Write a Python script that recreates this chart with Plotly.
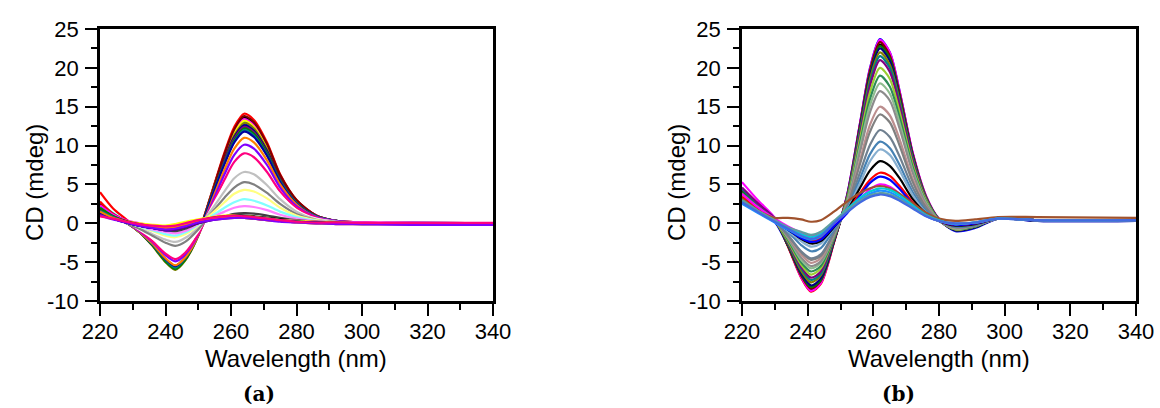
import plotly.graph_objects as go

# ---------------- data ----------------
# wavelength grids (nm)
wl_a = [220, 224, 228, 232, 236, 240, 243, 246, 250, 254, 258, 261, 264, 267, 271, 275, 280, 286, 292, 300, 315, 340]
wl_b = [220, 225, 230, 234, 238, 241, 244, 248, 252, 256, 259, 262, 265, 268, 272, 276, 280, 285, 291, 298, 310, 340]

# panel (a): strongest spectra
a_high_colors = ["#000000", "#FF0000", "#00FF00", "#0000FF", "#00FFFF", "#FF00FF", "#FFFF00",
                 "#808000", "#000080", "#800080", "#800000", "#008000", "#008080", "#0000A0"]
a_high = [
    [2.4, 1.2, 0.2, -1.1, -2.7, -4.7, -5.7, -4.5, -1.4, 3.7, 8.7, 12.0, 13.6, 12.8, 10.0, 6.1, 2.9, 1.0, 0.3, 0.05, 0.0, 0.0],
    [4.0, 1.9, 0.5, -1.0, -2.7, -4.6, -5.6, -4.5, -1.3, 3.8, 9.1, 12.4, 14.1, 13.3, 10.4, 6.3, 3.0, 1.0, 0.3, 0.1, 0.0, 0.0],
    [2.2, 1.1, 0.2, -1.1, -2.8, -4.8, -5.8, -4.6, -1.5, 3.6, 8.6, 11.7, 13.3, 12.5, 9.8, 6.0, 2.8, 0.9, 0.3, 0.0, 0.0, 0.0],
    [2.0, 1.0, 0.1, -1.0, -2.6, -4.6, -5.5, -4.4, -1.4, 3.5, 8.2, 11.3, 12.8, 12.1, 9.4, 5.8, 2.7, 0.9, 0.3, 0.0, 0.0, 0.0],
    [2.6, 1.3, 0.2, -1.0, -2.7, -4.6, -5.6, -4.5, -1.4, 3.5, 8.4, 11.4, 13.0, 12.3, 9.6, 5.9, 2.8, 0.9, 0.3, 0.0, 0.0, 0.0],
    [2.0, 1.0, 0.1, -1.1, -2.8, -4.9, -5.9, -4.7, -1.5, 3.6, 8.6, 11.8, 13.4, 12.6, 9.9, 6.0, 2.9, 1.0, 0.3, 0.0, 0.0, 0.0],
    [1.8, 0.9, 0.1, -1.1, -2.8, -4.9, -5.9, -4.7, -1.5, 3.6, 8.5, 11.6, 13.2, 12.4, 9.7, 5.9, 2.8, 0.9, 0.3, 0.0, 0.0, 0.0],
    [2.3, 1.1, 0.2, -1.1, -2.9, -5.0, -6.0, -4.8, -1.6, 3.5, 8.3, 11.3, 12.9, 12.2, 9.5, 5.8, 2.8, 0.9, 0.3, 0.0, 0.0, 0.0],
    [1.9, 1.0, 0.1, -1.1, -2.8, -4.8, -5.8, -4.6, -1.5, 3.4, 8.1, 11.1, 12.6, 11.9, 9.3, 5.7, 2.7, 0.9, 0.3, 0.0, 0.0, 0.0],
    [2.1, 1.0, 0.1, -1.0, -2.7, -4.6, -5.6, -4.5, -1.4, 3.4, 8.0, 10.9, 12.4, 11.7, 9.1, 5.6, 2.7, 0.9, 0.3, 0.0, 0.0, 0.0],
    [2.5, 1.2, 0.2, -1.0, -2.6, -4.6, -5.5, -4.4, -1.3, 3.7, 8.9, 12.1, 13.8, 13.0, 10.2, 6.2, 3.0, 1.0, 0.3, 0.0, 0.0, 0.0],
    [2.0, 1.0, 0.1, -1.1, -2.8, -4.9, -5.9, -4.7, -1.5, 3.3, 7.8, 10.7, 12.2, 11.5, 9.0, 5.5, 2.6, 0.9, 0.3, 0.0, 0.0, 0.0],
    [1.8, 0.9, 0.1, -1.1, -2.7, -4.7, -5.7, -4.5, -1.5, 3.3, 7.7, 10.5, 12.0, 11.3, 8.8, 5.4, 2.6, 0.9, 0.3, 0.0, 0.0, 0.0],
    [1.7, 0.9, 0.1, -1.0, -2.6, -4.6, -5.5, -4.4, -1.4, 3.2, 7.6, 10.4, 11.8, 11.1, 8.7, 5.3, 2.5, 0.8, 0.3, 0.0, 0.0, 0.0],
]

# panel (a): intermediate spectra
a_mid_colors = ["#FF8000", "#8000FF", "#FF0080", "#FFFFFF", "#C0C0C0", "#808080",
                "#FFFF80", "#80FFFF", "#FF80FF", "#404040"]
a_mid = [
    [1.6, 1.0, 0.1, -1.1, -2.6, -4.5, -5.4, -4.4, -1.6, 2.7, 6.9, 9.6, 11.0, 10.4, 8.1, 5.0, 2.4, 0.8, 0.3, 0.1, 0.0, 0.0],
    [1.5, 0.9, 0.1, -1.0, -2.4, -4.1, -4.9, -4.0, -1.5, 2.4, 6.3, 8.8, 10.1, 9.6, 7.5, 4.6, 2.2, 0.8, 0.3, 0.1, 0.0, 0.0],
    [1.6, 0.9, 0.1, -0.9, -2.3, -3.9, -4.6, -3.8, -1.4, 2.1, 5.6, 7.9, 9.0, 8.5, 6.6, 4.1, 2.0, 0.7, 0.2, 0.05, 0.0, 0.0],
    [1.4, 0.8, 0.1, -0.8, -1.9, -3.2, -3.7, -3.0, -1.0, 1.9, 4.9, 6.8, 7.8, 7.4, 5.8, 3.6, 1.7, 0.6, 0.2, 0.05, 0.0, 0.0],
    [1.5, 0.8, 0.1, -0.6, -1.4, -2.1, -2.4, -1.9, -0.5, 1.7, 4.1, 5.8, 6.6, 6.3, 4.9, 3.1, 1.5, 0.5, 0.2, 0.05, 0.0, 0.0],
    [1.4, 0.8, 0.0, -0.7, -1.6, -2.5, -2.9, -2.4, -0.8, 1.3, 3.3, 4.6, 5.3, 5.0, 3.9, 2.5, 1.2, 0.4, 0.15, 0.0, 0.0, 0.0],
    [1.3, 0.7, 0.1, -0.4, -1.0, -1.6, -1.8, -1.4, -0.3, 1.2, 2.7, 3.8, 4.3, 4.1, 3.2, 2.0, 1.0, 0.4, 0.1, 0.0, 0.0, 0.0],
    [1.2, 0.7, 0.1, -0.4, -0.9, -1.4, -1.6, -1.2, -0.2, 0.9, 2.0, 2.7, 3.1, 2.9, 2.3, 1.5, 0.8, 0.3, 0.1, 0.0, 0.0, 0.0],
    [1.1, 0.6, 0.1, -0.3, -0.8, -1.1, -1.3, -1.0, -0.1, 0.7, 1.5, 2.0, 2.2, 2.1, 1.7, 1.1, 0.6, 0.25, 0.1, 0.0, 0.0, 0.0],
    [1.2, 0.6, 0.1, -0.3, -0.6, -0.9, -1.0, -0.7, 0.0, 0.5, 0.9, 1.2, 1.3, 1.25, 1.0, 0.7, 0.4, 0.2, 0.1, 0.0, 0.0, 0.0],
]

# panel (a): nearly flat spectra
a_flat_colors = ["#000000", "#FF0000", "#00FF00", "#0000FF", "#00FFFF", "#FF00FF", "#FFFF00",
                 "#808000", "#000080", "#800080", "#800000", "#008000", "#008080", "#0000A0",
                 "#FF8000", "#8000FF", "#FF0080"]
a_flat = [
    [1.6, 0.8, 0.2, -0.2, -0.5, -0.7, -0.6, -0.3, 0.2, 0.6, 0.9, 1.0, 1.0, 0.9, 0.7, 0.5, 0.3, 0.2, 0.1, 0.0, 0.0, 0.0],
    [2.8, 1.2, 0.3, -0.1, -0.4, -0.6, -0.5, -0.2, 0.3, 0.7, 0.9, 0.9, 0.9, 0.8, 0.6, 0.4, 0.3, 0.1, 0.1, 0.0, 0.1, 0.0],
    [1.9, 0.9, 0.2, -0.2, -0.5, -0.8, -0.7, -0.4, 0.1, 0.5, 0.8, 0.9, 0.9, 0.8, 0.6, 0.4, 0.2, 0.1, 0.0, 0.0, 0.0, 0.0],
    [1.4, 0.7, 0.1, -0.3, -0.6, -0.9, -0.8, -0.4, 0.1, 0.5, 0.7, 0.8, 0.8, 0.7, 0.5, 0.3, 0.2, 0.1, 0.0, -0.1, 0.0, -0.1],
    [2.2, 1.0, 0.3, -0.1, -0.4, -0.6, -0.5, -0.2, 0.3, 0.6, 0.8, 0.9, 0.8, 0.7, 0.6, 0.4, 0.3, 0.1, 0.1, 0.0, 0.1, 0.0],
    [2.3, 1.1, 0.4, 0.0, -0.3, -0.4, -0.3, 0.0, 0.4, 0.7, 0.8, 0.9, 0.8, 0.7, 0.5, 0.4, 0.3, 0.2, 0.1, 0.1, 0.1, 0.0],
    [1.7, 0.8, 0.3, 0.0, -0.2, -0.3, -0.1, 0.2, 0.5, 0.8, 1.0, 1.0, 0.9, 0.8, 0.6, 0.4, 0.3, 0.2, 0.1, 0.0, 0.0, 0.0],
    [1.5, 0.7, 0.2, -0.2, -0.5, -0.7, -0.6, -0.3, 0.2, 0.6, 0.8, 0.9, 0.9, 0.8, 0.6, 0.4, 0.2, 0.1, 0.0, 0.0, 0.0, 0.0],
    [1.3, 0.6, 0.1, -0.3, -0.6, -0.8, -0.8, -0.5, 0.0, 0.4, 0.7, 0.8, 0.8, 0.7, 0.5, 0.3, 0.2, 0.1, 0.0, 0.0, -0.1, 0.0],
    [1.2, 0.6, 0.1, -0.3, -0.6, -0.9, -0.8, -0.5, 0.0, 0.4, 0.6, 0.7, 0.7, 0.6, 0.4, 0.3, 0.1, 0.0, 0.0, -0.1, -0.1, -0.1],
    [1.8, 0.9, 0.3, -0.1, -0.4, -0.5, -0.4, -0.1, 0.3, 0.7, 0.9, 0.9, 0.9, 0.7, 0.5, 0.4, 0.2, 0.1, 0.1, 0.0, 0.0, 0.0],
    [2.0, 0.9, 0.2, -0.2, -0.5, -0.7, -0.6, -0.3, 0.2, 0.6, 0.8, 0.8, 0.8, 0.7, 0.5, 0.3, 0.2, 0.1, 0.0, 0.0, 0.0, 0.0],
    [1.6, 0.8, 0.2, -0.2, -0.5, -0.7, -0.6, -0.2, 0.2, 0.5, 0.7, 0.8, 0.8, 0.7, 0.5, 0.3, 0.2, 0.1, 0.0, 0.0, 0.0, 0.0],
    [1.4, 0.7, 0.1, -0.3, -0.6, -0.8, -0.7, -0.4, 0.1, 0.5, 0.7, 0.8, 0.7, 0.6, 0.5, 0.3, 0.2, 0.1, 0.0, 0.0, 0.0, 0.0],
    [1.5, 0.7, 0.2, -0.2, -0.5, -0.6, -0.5, -0.2, 0.3, 0.6, 0.8, 0.8, 0.7, 0.6, 0.4, 0.3, 0.1, 0.0, -0.1, -0.1, -0.1, -0.1],
    [1.0, 0.5, 0.1, -0.3, -0.6, -0.8, -0.7, -0.4, 0.1, 0.4, 0.6, 0.7, 0.7, 0.6, 0.4, 0.2, 0.1, 0.0, -0.1, -0.1, -0.2, -0.2],
    [0.9, 0.6, 0.2, -0.1, -0.3, -0.4, -0.3, 0.0, 0.4, 0.7, 0.9, 1.0, 0.9, 0.8, 0.6, 0.4, 0.2, 0.1, 0.1, 0.05, 0.05, 0.05],
]

# panel (b): strong spectra
b_high_colors = ["#000000", "#FF0000", "#0000FF", "#FF00FF", "#800000", "#008000", "#000080",
                 "#808000", "#008080", "#800080", "#9ACD32", "#2E8B57", "#8FBC8F", "#8C8C8C",
                 "#BC8F8F", "#808080", "#708090"]
b_high = [
    [4.0, 2.3, 0.5, -2.9, -6.8, -8.6, -7.6, -2.4, 3.4, 12.6, 19.4, 23.0, 21.3, 16.5, 8.7, 3.4, 0.5, -0.9, -0.5, 0.7, 0.4, 0.4],
    [4.5, 2.5, 0.6, -3.0, -7.0, -8.8, -7.8, -2.5, 3.5, 12.8, 19.7, 23.4, 21.7, 16.8, 8.9, 3.5, 0.5, -0.9, -0.5, 0.7, 0.4, 0.3],
    [3.6, 2.0, 0.2, -2.9, -6.8, -8.5, -7.5, -2.3, 3.6, 13.0, 20.0, 23.7, 22.0, 17.0, 9.0, 3.5, 0.5, -1.0, -0.6, 0.6, 0.3, 0.3],
    [5.3, 2.9, 0.7, -2.8, -6.9, -8.7, -7.7, -2.4, 3.6, 13.0, 19.9, 23.6, 22.0, 17.0, 9.1, 3.6, 0.6, -0.8, -0.4, 0.7, 0.4, 0.4],
    [4.2, 2.4, 0.5, -2.9, -6.7, -8.4, -7.4, -2.4, 3.4, 12.8, 19.7, 23.3, 21.6, 16.7, 8.9, 3.4, 0.5, -0.9, -0.5, 0.7, 0.4, 0.4],
    [4.0, 2.2, 0.4, -2.8, -6.5, -8.2, -7.3, -2.3, 3.4, 12.5, 19.2, 22.8, 21.2, 16.3, 8.7, 3.4, 0.5, -0.9, -0.5, 0.7, 0.4, 0.4],
    [3.4, 1.9, 0.3, -2.7, -6.4, -8.0, -7.1, -2.3, 3.3, 12.4, 19.0, 22.5, 20.9, 16.1, 8.6, 3.3, 0.5, -0.9, -0.5, 0.6, 0.3, 0.3],
    [3.8, 2.1, 0.4, -2.6, -6.1, -7.6, -6.7, -2.1, 3.3, 12.1, 18.6, 22.0, 20.4, 15.8, 8.4, 3.3, 0.5, -0.8, -0.4, 0.7, 0.4, 0.4],
    [4.4, 2.4, 0.6, -2.5, -5.8, -7.3, -6.5, -2.0, 3.2, 11.8, 18.1, 21.5, 20.0, 15.4, 8.2, 3.2, 0.5, -0.8, -0.4, 0.7, 0.4, 0.4],
    [4.6, 2.5, 0.6, -2.4, -5.6, -7.0, -6.2, -1.9, 3.1, 11.5, 17.7, 21.0, 19.5, 15.1, 8.0, 3.1, 0.4, -0.8, -0.4, 0.7, 0.4, 0.4],
    [3.5, 1.9, 0.3, -2.3, -5.3, -6.6, -5.8, -1.8, 3.0, 11.0, 16.9, 20.0, 18.6, 14.3, 7.6, 3.0, 0.4, -0.8, -0.4, 0.7, 0.4, 0.4],
    [3.9, 2.1, 0.4, -2.1, -5.0, -6.2, -5.5, -1.7, 2.8, 10.4, 16.0, 19.0, 17.6, 13.6, 7.2, 2.8, 0.4, -0.7, -0.4, 0.7, 0.4, 0.4],
    [3.2, 1.8, 0.3, -1.9, -4.7, -5.8, -5.1, -1.6, 2.7, 9.9, 15.2, 18.0, 16.7, 12.9, 6.8, 2.7, 0.4, -0.7, -0.3, 0.6, 0.4, 0.4],
    [3.7, 2.0, 0.4, -1.8, -4.4, -5.5, -4.9, -1.5, 2.5, 9.3, 14.3, 17.0, 15.8, 12.2, 6.5, 2.5, 0.4, -0.6, -0.3, 0.6, 0.4, 0.4],
    [3.4, 1.9, 0.3, -1.7, -4.0, -5.1, -4.5, -1.3, 2.3, 8.2, 12.7, 15.0, 13.9, 10.8, 5.7, 2.2, 0.3, -0.6, -0.3, 0.6, 0.4, 0.4],
    [3.0, 1.6, 0.2, -1.6, -3.7, -4.7, -4.2, -1.2, 2.2, 7.7, 11.8, 14.0, 13.0, 10.0, 5.3, 2.1, 0.3, -0.5, -0.3, 0.6, 0.4, 0.4],
    [3.3, 1.8, 0.3, -1.5, -3.6, -4.5, -4.0, -1.2, 1.9, 6.6, 10.1, 12.0, 11.1, 8.6, 4.6, 1.8, 0.3, -0.5, -0.2, 0.6, 0.4, 0.4],
]

# panel (b): weak spectra
b_low_colors = ["#4682B4", "#87AFD0", "#000000", "#FF0000", "#0000FF", "#FF00FF", "#A0522D",
                "#00CED1", "#1E90FF", "#5F9EA0", "#4169E1"]
b_low = [
    [2.9, 1.6, 0.2, -1.1, -2.8, -3.6, -3.2, -0.8, 1.8, 5.8, 8.9, 10.5, 9.7, 7.5, 4.0, 1.6, 0.3, -0.4, -0.2, 0.6, 0.4, 0.4],
    [3.1, 1.7, 0.3, -1.0, -2.3, -3.0, -2.6, -0.6, 1.7, 5.2, 8.0, 9.5, 8.8, 6.8, 3.6, 1.4, 0.3, -0.3, -0.1, 0.6, 0.4, 0.4],
    [3.0, 1.6, 0.3, -0.8, -2.0, -2.6, -2.3, -0.5, 1.6, 4.6, 6.8, 8.0, 7.4, 5.8, 3.1, 1.3, 0.3, -0.3, -0.1, 0.6, 0.4, 0.4],
    [3.4, 1.8, 0.4, -0.7, -1.7, -2.2, -1.9, -0.3, 1.5, 3.9, 5.6, 6.5, 6.1, 4.8, 2.7, 1.1, 0.3, -0.2, 0.0, 0.6, 0.4, 0.4],
    [2.6, 1.4, 0.2, -0.8, -1.9, -2.4, -2.1, -0.4, 1.3, 3.6, 5.2, 6.0, 5.6, 4.4, 2.5, 1.0, 0.3, -0.2, 0.0, 0.6, 0.4, 0.4],
    [3.8, 2.0, 0.6, -0.4, -1.2, -1.6, -1.3, 0.0, 1.5, 3.2, 4.4, 5.0, 4.7, 3.8, 2.2, 1.0, 0.3, -0.1, 0.1, 0.6, 0.4, 0.4],
    [3.2, 1.6, 0.7, 0.7, 0.5, 0.2, 0.4, 1.5, 2.8, 3.9, 4.5, 4.8, 4.5, 3.8, 2.6, 1.4, 0.6, 0.3, 0.5, 0.8, 0.8, 0.7],
    [2.8, 1.5, 0.3, -0.6, -1.4, -1.8, -1.4, 0.2, 1.8, 3.3, 4.1, 4.5, 4.3, 3.6, 2.3, 1.1, 0.4, -0.1, 0.1, 0.6, 0.4, 0.4],
    [2.5, 1.3, 0.1, -0.8, -1.7, -2.1, -1.7, 0.0, 1.6, 3.0, 3.8, 4.2, 4.0, 3.3, 2.1, 1.0, 0.3, -0.1, 0.1, 0.6, 0.4, 0.4],
    [3.0, 1.6, 0.4, -0.5, -1.1, -1.5, -1.1, 0.3, 1.7, 2.9, 3.6, 3.9, 3.7, 3.1, 2.0, 1.0, 0.3, 0.0, 0.1, 0.6, 0.4, 0.4],
    [2.7, 1.4, 0.2, -0.7, -1.6, -2.0, -1.6, 0.0, 1.4, 2.7, 3.4, 3.7, 3.5, 2.9, 1.9, 0.9, 0.3, 0.0, 0.1, 0.6, 0.4, 0.4],
]

x_ticks = [220, 240, 260, 280, 300, 320, 340]
y_ticks = [-10, -5, 0, 5, 10, 15, 20, 25]
y_tick_text = ["-10", "-5", "0", "5", "10", "15", "20", "25"]

# ---------------- figure ----------------
FONT = "Liberation Sans"
fig = go.Figure()


def add_group(wl, rows, colors, xa, ya):
    for vals, col in zip(rows, colors):
        fig.add_trace(go.Scatter(
            x=wl, y=vals, mode="lines", xaxis=xa, yaxis=ya,
            line=dict(color=col, width=2.2, shape="spline", smoothing=0.8),
            showlegend=False, hoverinfo="skip"))


add_group(wl_a, a_high, a_high_colors, "x", "y")
add_group(wl_a, a_mid, a_mid_colors, "x", "y")
add_group(wl_a, a_flat, a_flat_colors, "x", "y")
add_group(wl_b, b_high, b_high_colors, "x2", "y2")
add_group(wl_b, b_low, b_low_colors, "x2", "y2")

W, H = 1160, 408
top_px, bot_px = 29, 301
ydom = [1 - bot_px / H, 1 - top_px / H]


def xaxis(left, right, anchor):
    return dict(domain=[left / W, right / W], range=[220, 340], anchor=anchor, automargin=False,
                tickvals=x_ticks, showline=True, linewidth=2.5, linecolor="black", mirror=True,
                ticks="outside", ticklen=12, tickwidth=2, tickcolor="black", ticklabelstandoff=-3,
                minor=dict(ticks="outside", ticklen=6, tickwidth=2, dtick=10, tickcolor="black"),
                showgrid=False, zeroline=False,
                tickfont=dict(family=FONT, size=22, color="black"))


def yaxis(anchor):
    return dict(domain=ydom, range=[-10, 25], anchor=anchor, automargin=False,
                tickvals=y_ticks, ticktext=y_tick_text,
                showline=True, linewidth=2.5, linecolor="black", mirror=True,
                ticks="outside", ticklen=12, tickwidth=2, tickcolor="black", ticklabelstandoff=2,
                minor=dict(ticks="outside", ticklen=6, tickwidth=2, dtick=2.5, tickcolor="black"),
                showgrid=False, zeroline=False,
                tickfont=dict(family=FONT, size=22, color="black"))


ann = []
for cx, cy_lab, px_lab, lab in [(296, 35, 259, "(a)"), (939, 677, 898, "(b)")]:
    ann.append(dict(text="Wavelength (nm)", x=cx / W, y=1 - 358 / H, xref="paper", yref="paper",
                    showarrow=False, xanchor="center", yanchor="middle",
                    font=dict(family=FONT, size=24, color="black")))
    ann.append(dict(text="CD (mdeg)", x=cy_lab / W, y=1 - 183 / H, xref="paper", yref="paper",
                    showarrow=False, xanchor="center", yanchor="middle", textangle=-90,
                    font=dict(family=FONT, size=24, color="black")))
    ann.append(dict(text="<b>" + lab + "</b>", x=px_lab / W, y=1 - 394 / H, xref="paper", yref="paper",
                    showarrow=False, xanchor="center", yanchor="middle",
                    font=dict(family="DejaVu Serif", size=20, color="black")))

fig.update_layout(
    width=W, height=H, margin=dict(l=0, r=0, t=0, b=0, autoexpand=False),
    paper_bgcolor="white", plot_bgcolor="white",
    xaxis=xaxis(100, 493, "y"), yaxis=yaxis("x"),
    xaxis2=xaxis(742, 1136, "y2"), yaxis2=yaxis("x2"),
    annotations=ann,
)

fig.write_html("out.html")
